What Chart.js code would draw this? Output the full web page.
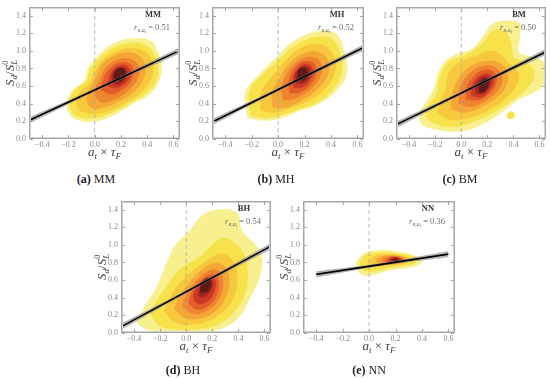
<!DOCTYPE html>
<html>
<head>
<meta charset="utf-8">
<script src="https://cdn.jsdelivr.net/npm/chart.js@4"></script>
<style>
  html, body { margin: 0; padding: 0; background: #fff; }
  #fig { position: relative; width: 550px; height: 378px; overflow: hidden; }
  #fig canvas { position: absolute; }
  .cap { position: absolute; width: 120px; text-align: center; font: 12px "Liberation Serif", "Times New Roman", serif; color: #222; line-height: 14px; }
</style>
</head>
<body>
<div id="fig"></div>
<script>
// axis ticks shared by all panels
const xTicks = [-0.4, -0.2, 0, 0.2, 0.4, 0.6];
const yTicks = [0, 0.2, 0.4, 0.6, 0.8, 1.0, 1.2, 1.4];
const zeroLine = [[0, 0], [0, 1.5]];

const panelTags = ['(a)', '(b)', '(c)', '(d)', '(e)'];
const panelNames = ['MM', 'MH', 'BM', 'BH', 'NN'];
const panelR = ['0.51', '0.52', '0.50', '0.54', '0.36'];

// fitted line + confidence band (x,y)
const fitMM = [[-0.5, 0.21], [0.65, 1.005]];
const bandHiMM = [[-0.5, 0.24], [0.075, 0.619], [0.65, 1.035]];
const bandLoMM = [[-0.5, 0.18], [0.075, 0.595], [0.65, 0.975]];
const fitMH = [[-0.5, 0.19], [0.65, 1.04]];
const bandHiMH = [[-0.5, 0.22], [0.075, 0.627], [0.65, 1.07]];
const bandLoMH = [[-0.5, 0.16], [0.075, 0.603], [0.65, 1.01]];
const fitBM = [[-0.5, 0.16], [0.65, 0.99]];
const bandHiBM = [[-0.5, 0.19], [0.075, 0.587], [0.65, 1.02]];
const bandLoBM = [[-0.5, 0.13], [0.075, 0.563], [0.65, 0.96]];
const fitBH = [[-0.5, 0.07], [0.65, 0.985]];
const bandHiBH = [[-0.5, 0.10], [0.075, 0.54], [0.65, 1.015]];
const bandLoBH = [[-0.5, 0.04], [0.075, 0.515], [0.65, 0.955]];
const fitNN = [[-0.4, 0.665], [0.6, 0.895]];
const bandHiNN = [[-0.4, 0.695], [0.1, 0.792], [0.6, 0.925]];
const bandLoNN = [[-0.4, 0.635], [0.1, 0.768], [0.6, 0.865]];

// density contours, outer level first
const contoursMM = [
  [[-0.21,0.44],[-0.20,0.31],[-0.14,0.22],[0.01,0.20],[0.14,0.27],[0.29,0.40],[0.42,0.51],[0.49,0.66],[0.51,0.84],[0.47,1.02],[0.43,1.11],[0.29,1.14],[0.14,1.08],[0.03,0.95],[-0.05,0.80],[-0.08,0.66],[-0.17,0.55]],
  [[-0.19,0.45],[-0.18,0.33],[-0.12,0.25],[0.0,0.24],[0.13,0.30],[0.28,0.42],[0.40,0.53],[0.47,0.67],[0.48,0.84],[0.44,0.99],[0.38,1.07],[0.27,1.09],[0.15,1.04],[0.05,0.93],[-0.03,0.80],[-0.06,0.66],[-0.15,0.56]],
  [[-0.14,0.46],[-0.12,0.34],[-0.04,0.29],[0.08,0.31],[0.22,0.40],[0.35,0.53],[0.43,0.68],[0.44,0.85],[0.39,0.98],[0.28,1.03],[0.16,0.99],[0.06,0.89],[0.0,0.76],[-0.04,0.63],[-0.10,0.55]],
  [[-0.06,0.46],[-0.04,0.37],[0.04,0.35],[0.16,0.41],[0.29,0.53],[0.37,0.68],[0.38,0.84],[0.33,0.95],[0.23,0.98],[0.13,0.93],[0.05,0.83],[0.01,0.70],[-0.03,0.58]],
  [[0.0,0.50],[0.05,0.42],[0.15,0.45],[0.26,0.56],[0.33,0.70],[0.33,0.84],[0.26,0.91],[0.16,0.89],[0.08,0.80],[0.04,0.68],[0.01,0.59]],
  [[0.05,0.56],[0.12,0.51],[0.21,0.56],[0.28,0.67],[0.29,0.81],[0.23,0.87],[0.15,0.84],[0.09,0.75],[0.06,0.65]],
  [[0.10,0.60],[0.17,0.58],[0.25,0.66],[0.27,0.78],[0.22,0.84],[0.15,0.80],[0.11,0.70]],
  [[0.13,0.64],[0.19,0.62],[0.24,0.70],[0.24,0.79],[0.19,0.81],[0.14,0.75]],
  [[0.15,0.68],[0.20,0.66],[0.23,0.73],[0.22,0.80],[0.17,0.79],[0.15,0.73]]
];
const contoursMH = [
  [[-0.23,0.24],[-0.11,0.21],[0.01,0.23],[0.16,0.32],[0.31,0.40],[0.44,0.55],[0.52,0.75],[0.50,0.99],[0.44,1.19],[0.30,1.22],[0.12,1.11],[-0.01,0.93],[-0.13,0.75],[-0.24,0.56],[-0.25,0.40]],
  [[-0.21,0.27],[-0.10,0.24],[0.02,0.27],[0.16,0.34],[0.30,0.42],[0.42,0.57],[0.48,0.76],[0.47,0.97],[0.41,1.13],[0.29,1.16],[0.13,1.06],[0.01,0.90],[-0.11,0.74],[-0.21,0.57],[-0.22,0.42]],
  [[-0.13,0.33],[-0.03,0.30],[0.09,0.35],[0.23,0.43],[0.36,0.58],[0.43,0.76],[0.42,0.94],[0.35,1.06],[0.24,1.07],[0.12,0.98],[0.03,0.84],[-0.06,0.68],[-0.13,0.52]],
  [[-0.04,0.36],[0.06,0.36],[0.18,0.44],[0.30,0.57],[0.38,0.75],[0.37,0.91],[0.30,0.99],[0.19,0.97],[0.09,0.86],[0.02,0.71],[-0.04,0.53]],
  [[0.04,0.44],[0.13,0.46],[0.24,0.56],[0.32,0.72],[0.32,0.87],[0.25,0.93],[0.16,0.89],[0.08,0.77],[0.03,0.60]],
  [[0.09,0.52],[0.17,0.53],[0.25,0.63],[0.29,0.77],[0.26,0.87],[0.18,0.87],[0.11,0.77],[0.08,0.63]],
  [[0.12,0.58],[0.19,0.59],[0.25,0.69],[0.26,0.80],[0.20,0.85],[0.14,0.78],[0.11,0.67]],
  [[0.14,0.63],[0.20,0.64],[0.24,0.72],[0.23,0.81],[0.17,0.81],[0.13,0.72]],
  [[0.15,0.68],[0.20,0.67],[0.22,0.75],[0.20,0.81],[0.16,0.79],[0.15,0.73]]
];
const contoursBM = [
  [[-0.31,0.33],[-0.31,0.18],[-0.16,0.10],[0.0,0.09],[0.15,0.16],[0.30,0.29],[0.43,0.44],[0.56,0.53],[0.63,0.62],[0.63,0.87],[0.53,0.93],[0.44,0.99],[0.45,1.17],[0.45,1.31],[0.39,1.34],[0.25,1.31],[0.16,1.15],[0.08,1.02],[-0.08,0.93],[-0.17,0.77],[-0.21,0.57]],
  [[-0.27,0.25],[-0.20,0.17],[-0.05,0.14],[0.10,0.20],[0.26,0.31],[0.40,0.45],[0.52,0.60],[0.56,0.76],[0.50,0.86],[0.40,0.93],[0.38,1.10],[0.33,1.22],[0.24,1.22],[0.16,1.08],[0.06,0.97],[-0.10,0.87],[-0.16,0.72],[-0.19,0.52],[-0.25,0.38]],
  [[-0.18,0.30],[-0.08,0.22],[0.06,0.24],[0.20,0.32],[0.33,0.45],[0.42,0.60],[0.44,0.74],[0.37,0.85],[0.30,0.96],[0.22,1.00],[0.12,0.94],[0.0,0.88],[-0.09,0.76],[-0.12,0.56],[-0.16,0.42]],
  [[-0.08,0.34],[0.03,0.30],[0.15,0.36],[0.27,0.47],[0.35,0.62],[0.35,0.77],[0.28,0.87],[0.17,0.88],[0.05,0.80],[-0.03,0.66],[-0.07,0.48]],
  [[-0.02,0.40],[0.08,0.37],[0.19,0.44],[0.29,0.57],[0.31,0.72],[0.25,0.82],[0.15,0.82],[0.05,0.72],[-0.01,0.57]],
  [[0.04,0.45],[0.13,0.44],[0.22,0.52],[0.27,0.65],[0.25,0.76],[0.17,0.78],[0.09,0.70],[0.04,0.57]],
  [[0.08,0.49],[0.16,0.48],[0.23,0.58],[0.25,0.68],[0.20,0.74],[0.12,0.69],[0.08,0.58]],
  [[0.11,0.52],[0.17,0.52],[0.22,0.61],[0.22,0.69],[0.17,0.71],[0.12,0.64]],
  [[0.14,0.53],[0.18,0.54],[0.21,0.62],[0.20,0.68],[0.16,0.67],[0.14,0.60]]
];
const islandBM = [[0.35,0.27],[0.36,0.235],[0.39,0.23],[0.41,0.26],[0.40,0.30],[0.37,0.31]];
const contoursBH = [
  [[-0.38,0.12],[-0.30,0.04],[-0.18,0.02],[0.0,0.02],[0.18,0.02],[0.30,0.07],[0.41,0.19],[0.49,0.40],[0.56,0.62],[0.58,0.85],[0.52,1.02],[0.43,1.15],[0.39,1.36],[0.26,1.40],[0.13,1.34],[0.03,1.17],[-0.09,0.98],[-0.17,0.72],[-0.23,0.51],[-0.31,0.32]],
  [[-0.28,0.22],[-0.20,0.08],[-0.05,0.04],[0.12,0.05],[0.27,0.12],[0.38,0.26],[0.45,0.45],[0.47,0.70],[0.44,0.90],[0.36,1.03],[0.28,1.08],[0.20,1.00],[0.10,0.86],[-0.05,0.72],[-0.14,0.55],[-0.22,0.38]],
  [[-0.17,0.25],[-0.08,0.12],[0.06,0.10],[0.20,0.16],[0.32,0.30],[0.38,0.48],[0.39,0.70],[0.34,0.85],[0.26,0.90],[0.17,0.83],[0.05,0.70],[-0.06,0.55],[-0.12,0.40]],
  [[-0.09,0.27],[0.0,0.17],[0.12,0.17],[0.24,0.27],[0.31,0.44],[0.33,0.62],[0.29,0.76],[0.21,0.79],[0.11,0.70],[0.02,0.56],[-0.05,0.42]],
  [[-0.03,0.30],[0.05,0.22],[0.14,0.24],[0.24,0.36],[0.28,0.52],[0.27,0.66],[0.21,0.72],[0.12,0.65],[0.04,0.52],[-0.01,0.40]],
  [[0.02,0.33],[0.08,0.27],[0.16,0.30],[0.23,0.42],[0.25,0.56],[0.22,0.66],[0.15,0.64],[0.07,0.52],[0.03,0.42]],
  [[0.06,0.36],[0.11,0.33],[0.18,0.38],[0.22,0.50],[0.22,0.60],[0.17,0.63],[0.10,0.54],[0.06,0.45]],
  [[0.09,0.42],[0.14,0.41],[0.19,0.49],[0.20,0.58],[0.16,0.62],[0.11,0.53]],
  [[0.11,0.46],[0.16,0.47],[0.19,0.55],[0.18,0.61],[0.14,0.60],[0.11,0.53]]
];
const contoursNN = [
  [[-0.10,0.80],[-0.08,0.70],[-0.03,0.65],[0.05,0.67],[0.15,0.71],[0.28,0.74],[0.37,0.77],[0.40,0.83],[0.34,0.88],[0.22,0.92],[0.08,0.94],[-0.04,0.90]],
  [[-0.07,0.80],[-0.05,0.72],[0.03,0.70],[0.15,0.74],[0.28,0.77],[0.35,0.80],[0.34,0.86],[0.22,0.90],[0.08,0.91],[-0.03,0.88]],
  [[0.0,0.80],[0.05,0.76],[0.15,0.77],[0.27,0.79],[0.31,0.83],[0.26,0.87],[0.14,0.89],[0.04,0.87]],
  [[0.05,0.81],[0.12,0.78],[0.22,0.79],[0.29,0.82],[0.26,0.86],[0.16,0.88],[0.08,0.86]],
  [[0.09,0.82],[0.15,0.79],[0.23,0.80],[0.27,0.83],[0.24,0.86],[0.16,0.87],[0.11,0.85]],
  [[0.12,0.82],[0.17,0.80],[0.23,0.81],[0.26,0.83],[0.23,0.86],[0.16,0.86]],
  [[0.14,0.82],[0.19,0.805],[0.24,0.82],[0.22,0.85],[0.17,0.855]],
  [[0.16,0.825],[0.20,0.81],[0.23,0.83],[0.21,0.85],[0.17,0.845]],
  [[0.18,0.83],[0.21,0.82],[0.22,0.835],[0.20,0.845]]
];

// pale yellow -> dark brown
const levelColors = ['#f8f08e', '#f7e24c', '#f7c73e', '#f4a637', '#ef8430', '#e45c2a', '#cc3826', '#9e2620', '#5e1a16'];

// plot boxes on the page: left, top, right, bottom of the plotting area
const boxes = [[29, 3, 180, 139], [212, 3, 364, 139], [396, 3, 546, 139], [121, 197, 271, 333], [303, 197, 455, 333]];
const captionPos = [[96, 179], [276, 179], [460, 179], [183, 370], [369, 370]];

const panels = [
  {levels: contoursMM, fit: fitMM, hi: bandHiMM, lo: bandLoMM},
  {levels: contoursMH, fit: fitMH, hi: bandHiMH, lo: bandLoMH},
  {levels: contoursBM, fit: fitBM, hi: bandHiBM, lo: bandLoBM, island: islandBM},
  {levels: contoursBH, fit: fitBH, hi: bandHiBH, lo: bandLoBH},
  {levels: contoursNN, fit: fitNN, hi: bandHiNN, lo: bandLoNN}
];

const SERIF = '"Liberation Serif", "Times New Roman", serif';
const it = s => 'italic ' + s + 'px ' + SERIF;
const rm = s => s + 'px ' + SERIF;

const pts = arr => arr.map(p => ({x: p[0], y: p[1]}));
const closed = arr => pts(arr.concat([arr[0]]));

function fmtTick(v) {
	if (Math.abs(v) < 1e-9) return '0.0';
	return (v < 0 ? '\u2212' : '') + Math.abs(v).toFixed(1);
}

// draw a row of text pieces (sub/superscripts) centred on cx
function drawMath(ctx, parts, cx, cy, color) {
	let x = 0, prevStart = 0;
	const placed = [];
	parts.forEach(function(p) {
		ctx.font = p.f;
		const w = ctx.measureText(p.t).width;
		const start = p.over ? prevStart : x;
		placed.push(start);
		prevStart = start;
		x = Math.max(x, start + w);
	});
	const x0 = cx - x / 2;
	ctx.fillStyle = color;
	ctx.textBaseline = 'alphabetic';
	ctx.textAlign = 'left';
	parts.forEach(function(p, i) {
		ctx.font = p.f;
		ctx.fillText(p.t, x0 + placed[i], cy + (p.dy || 0));
	});
}

const yTitle = [{t: 'S', f: it(13)}, {t: 'd', f: it(9), dy: 3}, {t: '/', f: rm(13)}, {t: 'S', f: it(13)}, {t: 'L', f: it(9), dy: 3}, {t: '0', f: rm(8), dy: -6, over: true}];
const xTitle = [{t: 'a', f: it(13)}, {t: 't', f: it(9), dy: 3}, {t: ' \u00d7 ', f: rm(13)}, {t: '\u03c4', f: it(13)}, {t: 'F', f: it(9), dy: 3}];

function makeDecor(idx) {
	return {
		id: 'decor' + idx,
		afterDraw(chart) {
			const ctx = chart.ctx;
			const a = chart.chartArea;
			const sx = chart.scales.x, sy = chart.scales.y;
			const L = Math.round(a.left), T = Math.round(a.top), R = Math.round(a.right), B = Math.round(a.bottom);
			ctx.save();
			// frame and inward ticks
			ctx.fillStyle = '#a6a6a6';
			ctx.fillRect(L, T, R - L, 1);
			ctx.fillRect(L, B - 1, R - L, 1);
			ctx.fillRect(L, T, 1, B - T);
			ctx.fillRect(R - 1, T, 1, B - T);
			ctx.fillStyle = '#d2d2d2';
			ctx.fillRect(L + 1, T + 1, R - L - 2, 1);
			ctx.fillRect(L + 1, B - 2, R - L - 2, 1);
			ctx.fillRect(L + 1, T + 1, 1, B - T - 2);
			ctx.fillRect(R - 2, T + 1, 1, B - T - 2);
			ctx.fillStyle = '#a6a6a6';
			xTicks.forEach(function(v) {
				const px = Math.round(sx.getPixelForValue(v));
				ctx.fillRect(px, B - 4, 1, 3);
				ctx.fillRect(px, T + 1, 1, 3);
			});
			yTicks.forEach(function(v) {
				const py = Math.round(sy.getPixelForValue(v));
				ctx.fillRect(L + 1, py, 3, 1);
				ctx.fillRect(R - 4, py, 3, 1);
			});

			// axis titles
			drawMath(ctx, xTitle, (a.left + a.right) / 2, a.bottom + 17, '#404040');
			ctx.translate(a.left - 19, (a.top + a.bottom) / 2);
			ctx.rotate(-Math.PI / 2);
			drawMath(ctx, yTitle, 0, 4, '#404040');
			ctx.setTransform(1, 0, 0, 1, 0, 0);

			// case name and correlation
			drawMath(ctx, [{t: panelNames[idx], f: 'bold 8.5px ' + SERIF}], a.right - 27, a.top + 10, '#333');
			drawMath(ctx, [
				{t: 'r', f: it(8.5)},
				{t: '\u03ba,a', f: it(6), dy: 2},
				{t: 't', f: it(4.5), dy: 3.5},
				{t: ' = ' + panelR[idx], f: rm(8.5)}
			], a.right - 28, a.top + 23, '#6a6a6a');
			ctx.restore();
		}
	};
}

function buildDatasets(p) {
	let ds = [];
	ds.push({data: pts(p.fit), borderColor: '#000', borderWidth: 1.6, fill: false});
	ds.push({data: pts(p.hi), borderColor: 'rgba(110,110,110,0.7)', borderWidth: 0.6, backgroundColor: 'rgba(150,150,150,0.6)', fill: '+1', tension: 0.4});
	ds.push({data: pts(p.lo), borderColor: 'rgba(110,110,110,0.7)', borderWidth: 0.6, fill: false, tension: 0.4});
	ds.push({data: pts(zeroLine), borderColor: '#a8a8a8', borderWidth: 0.8, borderDash: [4, 3], fill: false});
	for (let i = p.levels.length - 1; i >= 0; i--) {
		ds.push({data: closed(p.levels[i]), backgroundColor: levelColors[i], borderColor: levelColors[i], borderWidth: 0.5, fill: 'shape', tension: 0.4});
	}
	if (p.island) {
		ds.push({data: closed(p.island), backgroundColor: levelColors[1], borderColor: levelColors[1], borderWidth: 0.5, fill: 'shape', tension: 0.4});
	}
	return ds.map(d => Object.assign({showLine: true, pointRadius: 0}, d));
}

const fig = document.getElementById('fig');

panels.forEach(function(p, idx) {
	const b = boxes[idx];
	const canvas = document.createElement('canvas');
	const w = b[2] - b[0] + 36, h = b[3] - b[1] + 36;
	canvas.width = w; canvas.height = h;
	canvas.style.width = w + 'px'; canvas.style.height = h + 'px';
	canvas.style.left = (b[0] - 32) + 'px';
	canvas.style.top = (b[1] - 4) + 'px';
	fig.appendChild(canvas);

	const tickFont = {family: SERIF, size: 8};
	new Chart(canvas, {
		type: 'scatter',
		data: {datasets: buildDatasets(p)},
		options: {
			animation: false,
			responsive: false,
			devicePixelRatio: 1,
			layout: {padding: {left: 0, top: 4, right: 4, bottom: 0}, autoPadding: false},
			plugins: {legend: {display: false}, tooltip: {enabled: false}},
			scales: {
				x: {
					type: 'linear', min: -0.5, max: 0.65,
					grid: {display: false, drawTicks: false}, border: {display: false},
					afterBuildTicks: s => { s.ticks = xTicks.map(v => ({value: v})); },
					afterFit: s => { s.height = 32; },
					ticks: {font: tickFont, color: '#8a8a8a', padding: 1, maxRotation: 0, autoSkip: false, callback: fmtTick}
				},
				y: {
					type: 'linear', min: 0, max: 1.5,
					grid: {display: false, drawTicks: false}, border: {display: false},
					afterBuildTicks: s => { s.ticks = yTicks.map(v => ({value: v})); },
					afterFit: s => { s.width = 32; },
					ticks: {font: tickFont, color: '#8a8a8a', padding: 3, autoSkip: false, callback: fmtTick}
				}
			}
		},
		plugins: [makeDecor(idx)]
	});

	const cap = document.createElement('div');
	cap.className = 'cap';
	cap.style.left = (captionPos[idx][0] - 60) + 'px';
	cap.style.top = (captionPos[idx][1] - 7) + 'px';
	cap.innerHTML = '<b>' + panelTags[idx] + '</b> ' + panelNames[idx];
	fig.appendChild(cap);
});
</script>
</body>
</html>
